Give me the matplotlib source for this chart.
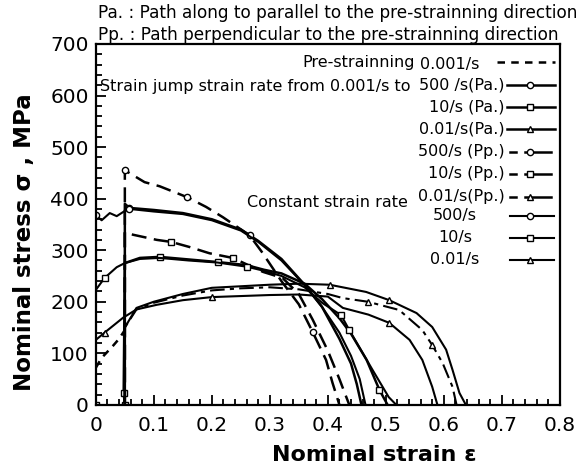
import numpy as np
import matplotlib.pyplot as plt
from matplotlib.ticker import MultipleLocator

plt.rcParams['font.family'] = ['DejaVu Sans']

# pre-straining at 0.001/s
pre_e = [0.0, 0.01, 0.02, 0.03, 0.04, 0.05]
pre_s = [72, 91, 103, 115, 128, 145]

# strain jump, path parallel (Pa.)
pa500_e = [0.05, 0.05, 0.058, 0.1, 0.15, 0.2, 0.25, 0.265, 0.28, 0.32, 0.36, 0.39, 0.42, 0.44, 0.45, 0.458]
pa500_s = [0, 390, 382, 378, 372, 360, 340, 329, 318, 283, 233, 190, 128, 80, 40, 0]
pa10_e = [0.05, 0.048, 0.05, 0.076, 0.11, 0.16, 0.21, 0.26, 0.29, 0.32, 0.36, 0.39, 0.42, 0.44, 0.467, 0.489, 0.503]
pa10_s = [0, 23, 275, 285, 287, 282, 277, 271, 262, 255, 235, 205, 168, 138, 87, 29, 0]
pa001_e = [0.05, 0.05, 0.07, 0.1, 0.15, 0.2, 0.25, 0.3, 0.35, 0.403, 0.466, 0.506, 0.553, 0.58, 0.604, 0.615, 0.627, 0.638]
pa001_s = [0, 150, 188, 200, 215, 227, 230, 233, 235, 233, 219, 203, 178, 151, 107, 68, 23, 0]

# strain jump, path perpendicular (Pp.)
pp500_e = [0.05, 0.05, 0.084, 0.11, 0.157, 0.19, 0.219, 0.265, 0.286, 0.32, 0.35, 0.374, 0.397, 0.408, 0.42]
pp500_s = [0, 455, 432, 424, 403, 384, 364, 329, 297, 240, 195, 141, 87, 43, 0]
pp10_e = [0.05, 0.05, 0.064, 0.105, 0.13, 0.162, 0.196, 0.236, 0.288, 0.322, 0.35, 0.374, 0.4, 0.42, 0.437]
pp10_s = [0, 335, 330, 320, 316, 306, 294, 285, 258, 246, 215, 165, 105, 50, 0]
pp001_e = [0.05, 0.05, 0.07, 0.1, 0.15, 0.2, 0.25, 0.3, 0.35, 0.4, 0.426, 0.469, 0.523, 0.563, 0.58, 0.598, 0.615, 0.622]
pp001_s = [0, 150, 185, 198, 212, 222, 226, 228, 224, 215, 207, 200, 184, 145, 116, 81, 35, 0]

# constant strain rate
c500_e = [0.0, 0.01, 0.024, 0.036, 0.047, 0.058, 0.1, 0.15, 0.2, 0.25, 0.28, 0.32, 0.36, 0.39, 0.42, 0.44, 0.455, 0.465]
c500_s = [368, 358, 372, 366, 374, 380, 375, 370, 358, 338, 316, 280, 232, 190, 140, 95, 50, 0]
c10_e = [0.0, 0.0, 0.015, 0.036, 0.05, 0.076, 0.11, 0.16, 0.21, 0.26, 0.29, 0.32, 0.36, 0.39, 0.423, 0.437, 0.477, 0.505, 0.518]
c10_s = [0, 223, 246, 267, 275, 283, 285, 280, 276, 268, 260, 250, 228, 198, 174, 145, 68, 15, 0]
c001_e = [0.0, 0.015, 0.047, 0.07, 0.105, 0.15, 0.2, 0.3, 0.35, 0.4, 0.426, 0.47, 0.506, 0.541, 0.563, 0.58, 0.589]
c001_s = [126, 140, 169, 185, 194, 203, 209, 213, 214, 210, 188, 175, 159, 126, 87, 35, 0]

xticks = [0, 0.1, 0.2, 0.3, 0.4, 0.5, 0.6, 0.7, 0.8]
xlabels = ['0', '0.1', '0.2', '0.3', '0.4', '0.5', '0.6', '0.7', '0.8']

fig = plt.figure(figsize=(5.88, 4.68), dpi=100)
ax = fig.add_axes([0.163, 0.135, 0.789, 0.771])

mk = dict(markersize=4.5, markerfacecolor='white', markeredgecolor='black', markeredgewidth=1.0)
dash = (0, (6, 3))
dashdot = (0, (7, 2.5, 2, 2.5))

ax.plot(pre_e, pre_s, color='black', lw=1.8, linestyle=(0, (3, 2.5)))

ax.plot(pa500_e, pa500_s, 'k-', lw=1.8, marker='o', markevery=[2, 7], **mk)
ax.plot(pa10_e, pa10_s, 'k-', lw=1.8, marker='s', markevery=[0, 1, 4, 6, 15], **mk)
ax.plot(pa001_e, pa001_s, 'k-', lw=1.5, marker='^', markevery=[9, 11], **mk)

ax.plot(pp500_e, pp500_s, 'k', lw=1.8, linestyle=dash, marker='o', markevery=[1, 4, 11], **mk)
ax.plot(pp10_e, pp10_s, 'k', lw=1.8, linestyle=dash, marker='s', markevery=[4, 7], **mk)
ax.plot(pp001_e, pp001_s, 'k', lw=1.5, linestyle=dashdot, marker='^', markevery=[11, 14], **mk)

ax.plot(c500_e, c500_s, 'k-', lw=1.5, marker='o', markevery=[0, 5], **mk)
ax.plot(c10_e, c10_s, 'k-', lw=1.5, marker='s', markevery=[0, 2, 9, 14, 15], **mk)
ax.plot(c001_e, c001_s, 'k-', lw=1.5, marker='^', markevery=[1, 6, 12], **mk)

ax.set_xlim(0, 0.8)
ax.set_ylim(0, 700)
ax.set_xticks(xticks)
ax.set_xticklabels(xlabels)
ax.xaxis.set_minor_locator(MultipleLocator(0.02))
ax.yaxis.set_major_locator(MultipleLocator(100))
ax.yaxis.set_minor_locator(MultipleLocator(20))
ax.tick_params(which='both', direction='in', width=1.3, labelsize=14.5)
ax.tick_params(which='major', length=7)
ax.tick_params(axis='x', which='major', pad=8)
ax.tick_params(axis='y', which='major', pad=5)
ax.tick_params(which='minor', length=4)
for sp in ax.spines.values():
    sp.set_linewidth(1.6)

ax.set_xlabel('Nominal strain ε', fontsize=16, fontweight='bold', labelpad=3)
ax.xaxis.set_label_coords(0.60, -0.11)
ax.set_ylabel('Nominal stress σ , MPa', fontsize=16.5, fontweight='bold')
ax.yaxis.set_label_coords(-0.13, 0.45)

fs = 11.5
fig.text(0.167, 0.972, 'Pa. : Path along to parallel to the pre-strainning direction', fontsize=12.2, va='center')
fig.text(0.167, 0.925, 'Pp. : Path perpendicular to the pre-strainning direction', fontsize=12.2, va='center')

# key drawn inside the frame
T = ax.transAxes
ax.text(0.687, 0.950, 'Pre-strainning', fontsize=fs, ha='right', va='center', transform=T)
ax.text(0.698, 0.943, '0.001/s', fontsize=fs, ha='left', va='center', transform=T)
ax.plot([0.864, 0.989], [0.950, 0.950], color='black', lw=1.8, linestyle=(0, (3, 2.5)), transform=T)
ax.text(0.009, 0.881, 'Strain jump strain rate from 0.001/s to', fontsize=fs, ha='left', va='center', transform=T)
ax.text(0.672, 0.562, 'Constant strain rate', fontsize=fs, ha='right', va='center', transform=T)

jump_keys = [('500 /s(Pa.)', 'o', '-'), ('10/s (Pa.)', 's', '-'), ('0.01/s(Pa.)', '^', '-'),
             ('500/s (Pp.)', 'o', '--'), ('10/s (Pp.)', 's', '--'), ('0.01/s(Pp.)', '^', '--')]
jump_y = [0.886, 0.825, 0.765, 0.701, 0.640, 0.576]
for (lab, m, ls), yy in zip(jump_keys, jump_y):
    ax.text(0.881, yy, lab, fontsize=fs, ha='right', va='center', transform=T)
    if ls == '-':
        ax.plot([0.886, 0.989], [yy, yy], 'k-', lw=1.8, transform=T)
    else:
        ax.plot([0.892, 0.905], [yy, yy], 'k-', lw=1.8, transform=T)
        ax.plot([0.925, 0.982], [yy, yy], 'k-', lw=1.8, transform=T)
    ax.plot([0.935], [yy], marker=m, transform=T, **mk)

const_keys = [('500/s', 'o'), ('10/s', 's'), ('0.01/s', '^')]
const_y = [0.524, 0.463, 0.402]
for (lab, m), yy in zip(const_keys, const_y):
    ax.text(0.774, yy, lab, fontsize=fs, ha='center', va='center', transform=T)
    ax.plot([0.892, 0.987], [yy, yy], 'k-', lw=1.5, transform=T)
    ax.plot([0.935], [yy], marker=m, transform=T, **mk)

fig.savefig('out.png', dpi=100)
